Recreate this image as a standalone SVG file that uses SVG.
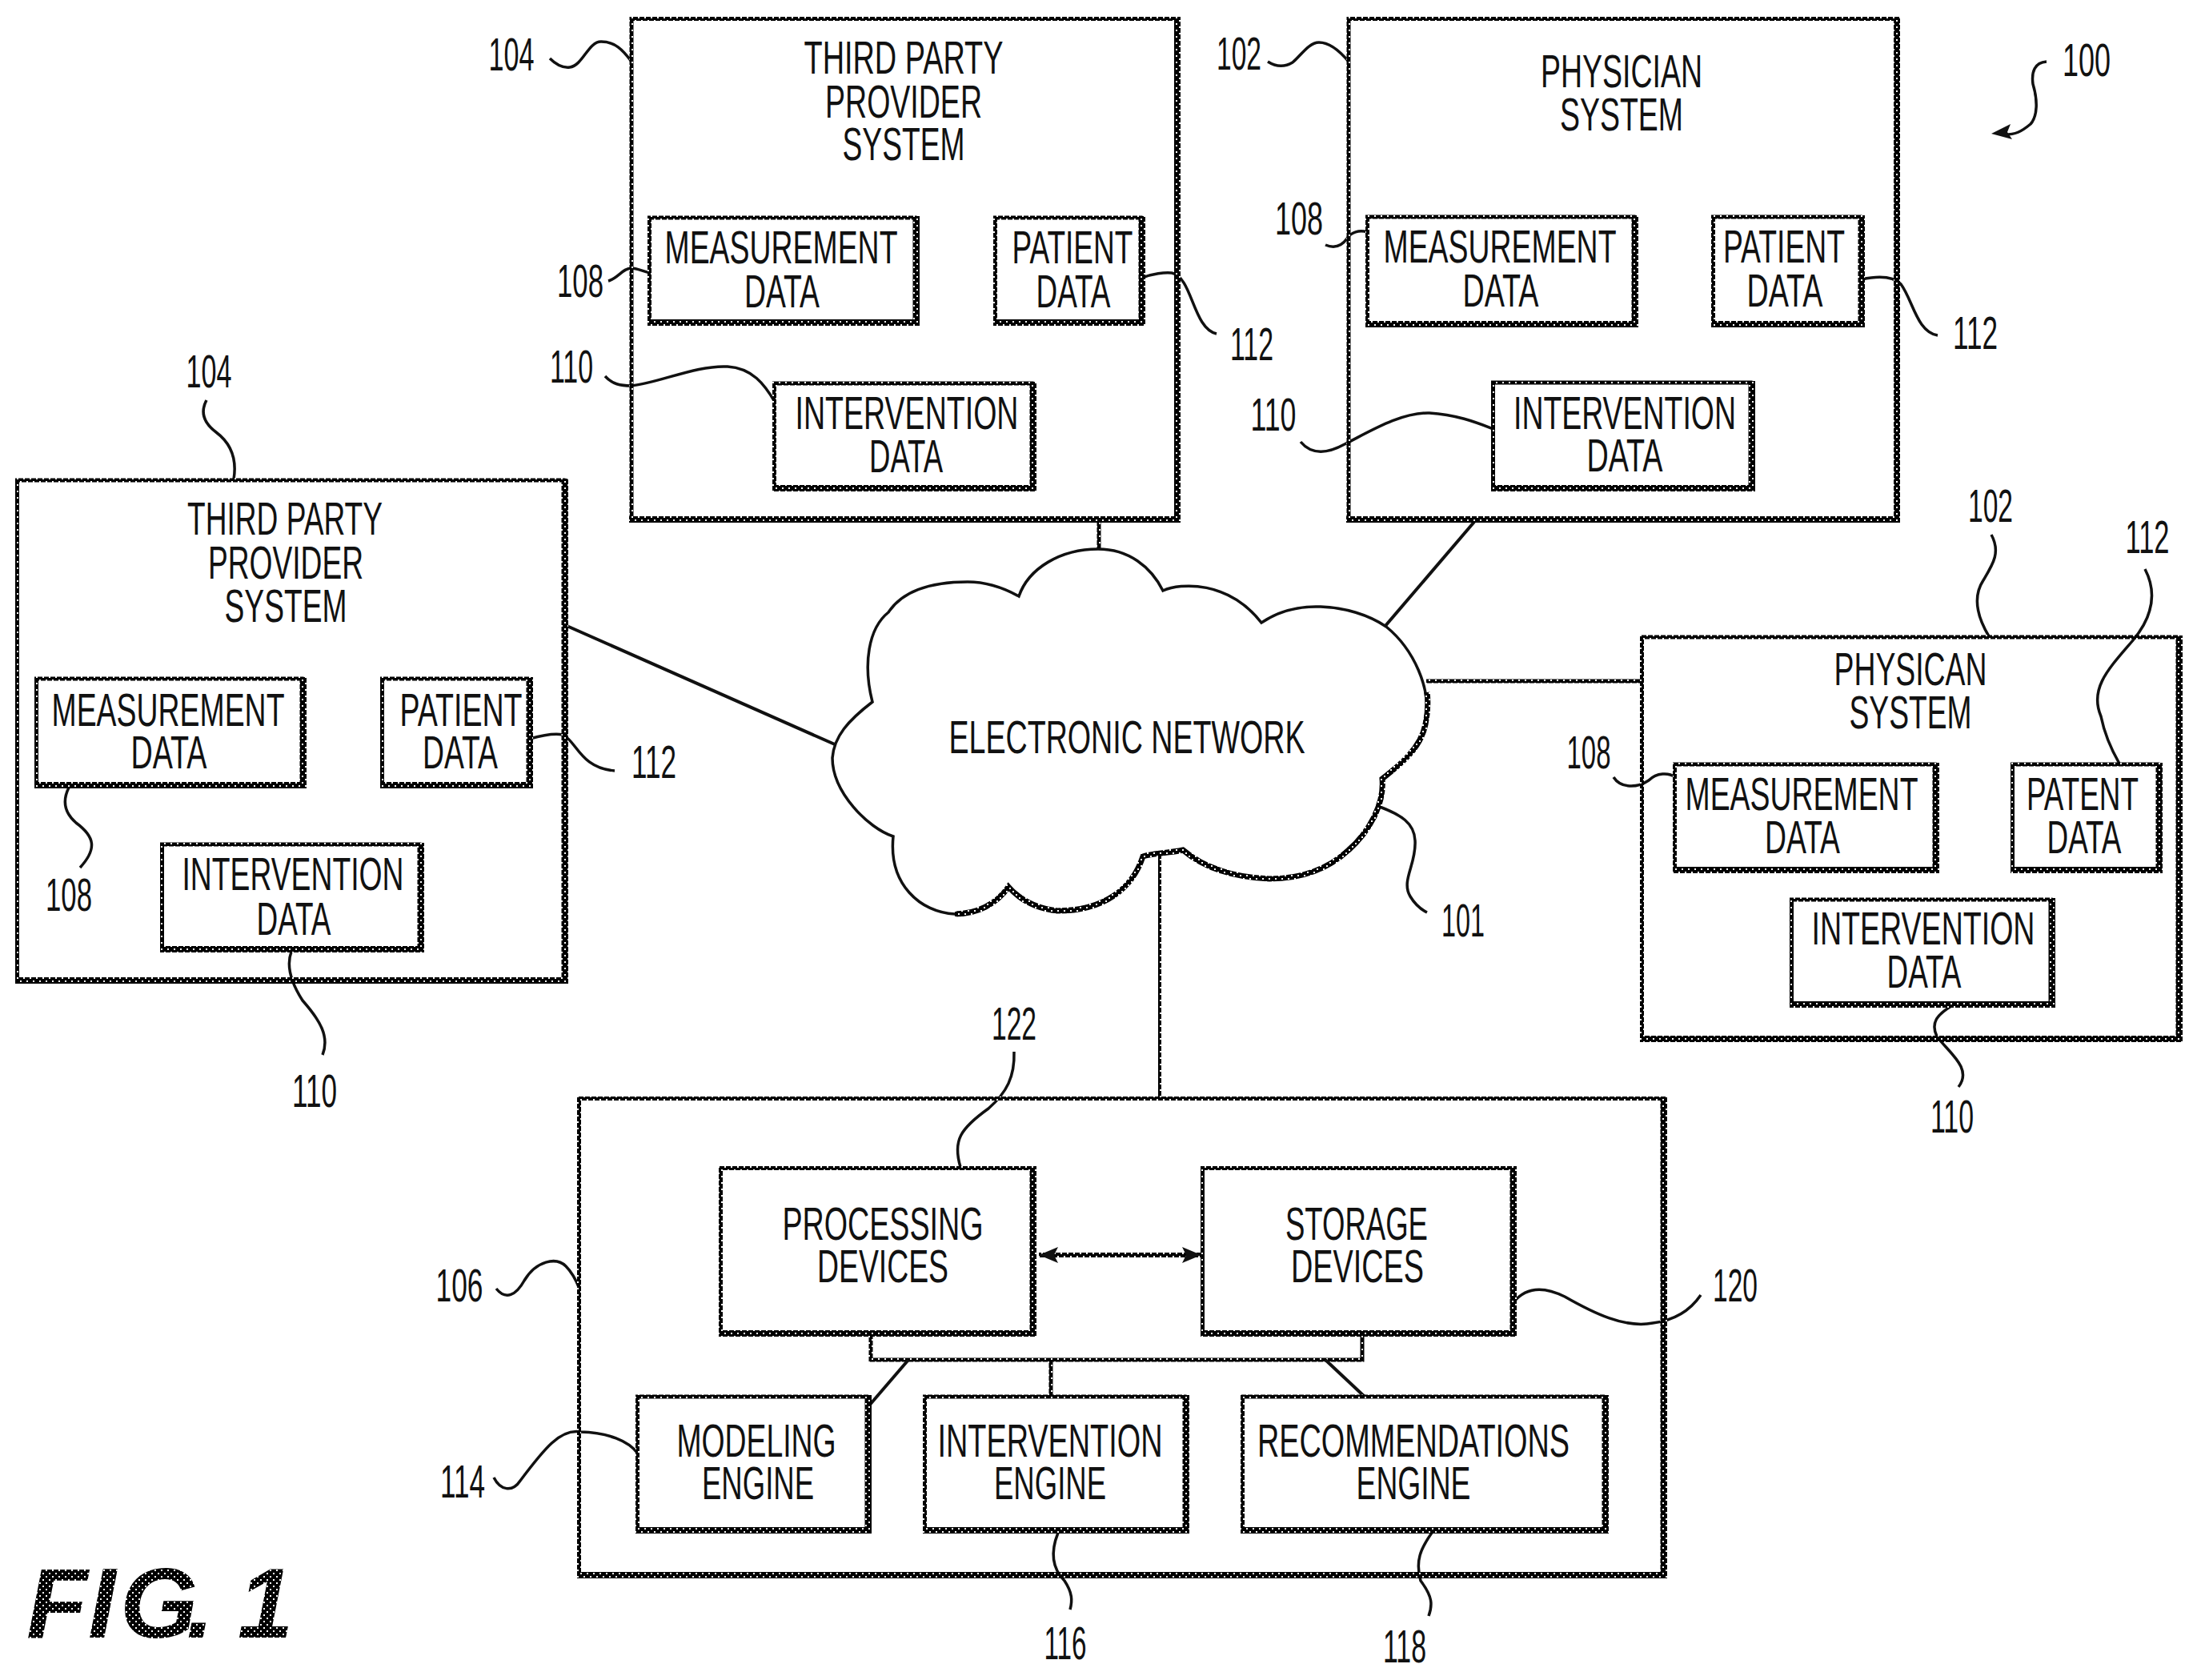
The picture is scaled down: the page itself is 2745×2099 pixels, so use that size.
<svg xmlns="http://www.w3.org/2000/svg" width="2745" height="2099" viewBox="0 0 2745 2099">
<style>
text{font-family:"Liberation Sans",Arial,sans-serif;font-size:58px;text-anchor:middle;fill:#111;}
.b{fill:none;stroke:url(#ht);stroke-width:5;}
.s{fill:none;stroke:url(#ht);stroke-width:8;}
.l{fill:none;stroke:url(#ht);stroke-width:5;}
.d{fill:none;stroke:#111;stroke-width:4;}
.w{fill:none;stroke:#111;stroke-width:3.5;}
.c{fill:#fff;stroke:#111;stroke-width:3.5;}
.h{fill:none;stroke:url(#ht);stroke-width:7;}
text.f{font-size:125px;font-weight:bold;font-style:italic;text-anchor:start;fill:url(#ht);}
</style>
<defs>
<pattern id="ht" width="8" height="8" patternUnits="userSpaceOnUse"><rect width="8" height="8" fill="#000"/><rect x="1" y="1" width="2" height="2" fill="#fff"/><rect x="5" y="5" width="2" height="2" fill="#fff"/></pattern>
<marker id="ah" markerUnits="userSpaceOnUse" markerWidth="26" markerHeight="22" refX="24" refY="11" orient="auto-start-reverse"><path d="M0 1 L24 11 L0 21 L5 11Z" fill="#111"/></marker>
</defs>
<rect width="2745" height="2099" fill="#fff"/>
<g id="connectors">
<path class="l" d="M1373 653V690"/>
<path class="d" d="M1842 652L1730 783"/>
<path class="l" d="M1782 851H2052"/>
<path class="d" d="M706 781L1043 930"/>
<path class="l" style="stroke-width:4" d="M1449 1069V1372"/>
<path class="l" style="stroke-width:6" marker-start="url(#ah)" marker-end="url(#ah)" d="M1298 1568H1501"/>
<path class="l" d="M1088 1670V1699H1702V1670"/>
<path class="d" d="M1135 1699L1086 1756"/>
<path class="l" d="M1313 1699V1745"/>
<path class="d" d="M1656 1699L1705 1745"/>
<g id="leaders">
<path class="w" d="M687 73C696 82 704 85 712 84C728 82 735 52 751 52C768 52 778 62 789 77"/>
<path class="w" d="M760 351C772 348 778 335 789 335C796 335 803 339 813 341"/>
<path class="w" d="M756 470C765 480 775 482 789 482C825 478 870 456 909 458C940 460 955 480 968 502"/>
<path class="w" d="M1427 347C1440 342 1455 340 1464 341C1490 346 1490 410 1520 417"/>
<path class="w" d="M258 500C250 515 254 528 270 540C290 555 296 575 292 599"/>
<path class="w" d="M662 923C680 918 692 916 703 918C720 925 725 960 768 963"/>
<path class="w" d="M86 984C78 1000 80 1015 95 1028C118 1045 122 1060 100 1084"/>
<path class="w" d="M364 1189C358 1205 362 1225 378 1250C400 1275 412 1295 403 1318"/>
<path class="w" d="M1584 77C1595 84 1605 84 1615 78C1625 70 1635 53 1648 53C1662 53 1675 65 1685 77"/>
<path class="w" d="M1656 306C1670 312 1678 305 1683 298C1688 290 1698 287 1709 290"/>
<path class="w" d="M1625 552C1640 570 1660 566 1680 555C1710 540 1750 515 1786 516C1820 518 1845 528 1866 536"/>
<path class="w" d="M2326 349C2345 345 2365 345 2375 355C2390 375 2395 415 2421 419"/>
<path class="w" d="M2557 77C2542 78 2538 90 2540 105C2546 125 2546 145 2537 155C2525 165 2518 168 2505 168"/>
<polygon fill="#111" points="2488,167 2512,155 2508,165 2514,174"/>
<path class="w" d="M2488 668C2500 690 2490 705 2478 725C2465 745 2470 770 2485 795"/>
<path class="w" d="M2680 711C2695 740 2690 770 2665 800C2635 835 2610 860 2625 895C2630 920 2640 940 2648 954"/>
<path class="w" d="M2016 971C2025 985 2045 985 2060 975C2070 965 2085 965 2093 971"/>
<path class="w" d="M1724 1008C1750 1018 1767 1028 1768 1050C1770 1080 1750 1100 1762 1120C1768 1130 1775 1136 1783 1140"/>
<path class="w" d="M2438 1257C2420 1268 2412 1278 2420 1295C2435 1315 2465 1335 2447 1358"/>
<path class="w" d="M1267 1314C1268 1345 1258 1365 1235 1385C1200 1410 1190 1425 1200 1458"/>
<path class="w" d="M620 1610C632 1625 645 1618 655 1600C670 1575 695 1570 707 1582C715 1590 720 1600 724 1610"/>
<path class="w" d="M1891 1627C1905 1610 1925 1605 1955 1620C1990 1640 2030 1660 2065 1653C2090 1650 2110 1640 2125 1618"/>
<path class="w" d="M617 1846C625 1862 640 1865 650 1850C680 1810 700 1785 725 1789C760 1790 785 1800 797 1816"/>
<path class="w" d="M1322 1915C1312 1940 1315 1960 1330 1975C1340 1990 1340 2000 1337 2011"/>
<path class="w" d="M1789 1915C1775 1935 1768 1950 1775 1975C1790 1995 1790 2005 1785 2019"/>
</g>
</g>
<g id="network-101">
<path class="c" d="M1090 877C1078 830 1085 785 1110 765C1130 735 1170 727 1209 727C1235 727 1255 735 1273 745C1285 710 1325 686 1372 686C1410 686 1438 708 1453 738C1475 728 1535 725 1576 778C1600 762 1625 757 1650 758C1680 759 1710 768 1732 783C1765 810 1790 860 1781 905C1775 935 1750 955 1727 973C1730 1005 1710 1040 1685 1062C1655 1090 1620 1098 1586 1098C1540 1096 1505 1085 1478 1062C1460 1066 1440 1066 1428 1070C1415 1110 1380 1138 1321 1138C1295 1135 1275 1125 1260 1108C1245 1130 1220 1142 1193 1142C1150 1140 1110 1105 1116 1045C1085 1035 1040 990 1040 947C1042 920 1060 900 1090 877Z"/>
<path class="h" d="M1783 865C1785 880 1783 895 1781 905C1775 935 1750 955 1727 973C1730 1005 1710 1040 1685 1062C1655 1090 1620 1098 1586 1098C1540 1096 1505 1085 1478 1062C1460 1066 1440 1066 1428 1070C1415 1110 1380 1138 1321 1138C1295 1135 1275 1125 1260 1108C1245 1130 1220 1142 1193 1142"/>
<text x="1408" y="941" textLength="445" lengthAdjust="spacingAndGlyphs">ELECTRONIC NETWORK</text>
</g>
<g id="third-party-top">
<rect class="b" x="789" y="23.500" width="681.500" height="625"/><path class="s" d="M1471 21V649H786"/>
<text x="1129" y="92" textLength="249" lengthAdjust="spacingAndGlyphs">THIRD PARTY</text>
<text x="1129" y="147" textLength="196" lengthAdjust="spacingAndGlyphs">PROVIDER</text>
<text x="1129" y="200" textLength="153" lengthAdjust="spacingAndGlyphs">SYSTEM</text>
<rect class="b" x="811.500" y="272" width="331.500" height="131"/><path class="s" d="M1145 270V403H809"/>
<text x="976" y="329" textLength="291" lengthAdjust="spacingAndGlyphs">MEASUREMENT</text>
<text x="977" y="384" textLength="94" lengthAdjust="spacingAndGlyphs">DATA</text>
<rect class="b" x="1243.500" y="272" width="181.500" height="131"/><path class="s" d="M1427 270V403H1241"/>
<text x="1340" y="329" textLength="151" lengthAdjust="spacingAndGlyphs">PATIENT</text>
<text x="1341" y="384" textLength="93" lengthAdjust="spacingAndGlyphs">DATA</text>
<rect class="b" x="967.500" y="479" width="321.500" height="131"/><path class="s" d="M1291 477V610H965"/>
<text x="1133" y="536" textLength="279" lengthAdjust="spacingAndGlyphs">INTERVENTION</text>
<text x="1132" y="590" textLength="92" lengthAdjust="spacingAndGlyphs">DATA</text>
</g>
<g id="third-party-left">
<rect class="b" x="21.500" y="600" width="682.500" height="625"/><path class="s" d="M706 598V1225H19"/>
<text x="356" y="668" textLength="244" lengthAdjust="spacingAndGlyphs">THIRD PARTY</text>
<text x="357" y="723" textLength="194" lengthAdjust="spacingAndGlyphs">PROVIDER</text>
<text x="357" y="777" textLength="153" lengthAdjust="spacingAndGlyphs">SYSTEM</text>
<rect class="b" x="45.500" y="848" width="331.500" height="133"/><path class="s" d="M379 846V981H43"/>
<text x="210" y="907" textLength="291" lengthAdjust="spacingAndGlyphs">MEASUREMENT</text>
<text x="211" y="960" textLength="95" lengthAdjust="spacingAndGlyphs">DATA</text>
<rect class="b" x="477.500" y="848" width="182.500" height="133"/><path class="s" d="M662 846V981H475"/>
<text x="576" y="907" textLength="153" lengthAdjust="spacingAndGlyphs">PATIENT</text>
<text x="575" y="960" textLength="94" lengthAdjust="spacingAndGlyphs">DATA</text>
<rect class="b" x="202.500" y="1055" width="321.500" height="131"/><path class="s" d="M526 1053V1186H200"/>
<text x="366" y="1112" textLength="277" lengthAdjust="spacingAndGlyphs">INTERVENTION</text>
<text x="367" y="1168" textLength="93" lengthAdjust="spacingAndGlyphs">DATA</text>
</g>
<g id="physician-top">
<rect class="b" x="1685" y="23.500" width="684.500" height="625"/><path class="s" d="M2370 21V649H1682"/>
<text x="2026" y="109" textLength="202" lengthAdjust="spacingAndGlyphs">PHYSICIAN</text>
<text x="2026" y="163" textLength="154" lengthAdjust="spacingAndGlyphs">SYSTEM</text>
<rect class="b" x="1708.500" y="271" width="332.500" height="134"/><path class="s" d="M2043 269V405H1706"/>
<text x="1874" y="328" textLength="291" lengthAdjust="spacingAndGlyphs">MEASUREMENT</text>
<text x="1875" y="383" textLength="95" lengthAdjust="spacingAndGlyphs">DATA</text>
<rect class="b" x="2140.500" y="271" width="183.500" height="134"/><path class="s" d="M2326 269V405H2138"/>
<text x="2229" y="328" textLength="152" lengthAdjust="spacingAndGlyphs">PATIENT</text>
<text x="2230" y="383" textLength="95" lengthAdjust="spacingAndGlyphs">DATA</text>
<rect class="b" x="1865.500" y="478" width="321.500" height="132"/><path class="s" d="M2189 476V610H1863"/>
<text x="2030" y="536" textLength="278" lengthAdjust="spacingAndGlyphs">INTERVENTION</text>
<text x="2030" y="589" textLength="95" lengthAdjust="spacingAndGlyphs">DATA</text>
</g>
<g id="physician-right">
<rect class="b" x="2051.500" y="796" width="669.500" height="502"/><path class="s" d="M2723 794V1298H2049"/>
<text x="2387" y="856" textLength="191" lengthAdjust="spacingAndGlyphs">PHYSICAN</text>
<text x="2387" y="910" textLength="153" lengthAdjust="spacingAndGlyphs">SYSTEM</text>
<rect class="b" x="2092.500" y="955" width="324.500" height="132"/><path class="s" d="M2419 953V1087H2090"/>
<text x="2251" y="1012" textLength="291" lengthAdjust="spacingAndGlyphs">MEASUREMENT</text>
<text x="2252" y="1066" textLength="94" lengthAdjust="spacingAndGlyphs">DATA</text>
<rect class="b" x="2514.500" y="955" width="181.500" height="132"/><path class="s" d="M2698 953V1087H2512"/>
<text x="2602" y="1012" textLength="140" lengthAdjust="spacingAndGlyphs">PATENT</text>
<text x="2604" y="1066" textLength="93" lengthAdjust="spacingAndGlyphs">DATA</text>
<rect class="b" x="2238.500" y="1124" width="323.500" height="131"/><path class="s" d="M2564 1122V1255H2236"/>
<text x="2403" y="1180" textLength="279" lengthAdjust="spacingAndGlyphs">INTERVENTION</text>
<text x="2404" y="1234" textLength="93" lengthAdjust="spacingAndGlyphs">DATA</text>
</g>
<g id="server-106">
<rect class="b" x="723.500" y="1372.500" width="1353.500" height="595.500"/><path class="s" d="M2079 1370V1968H721"/>
</g>
<g id="processing-devices-122">
<rect class="b" x="900.500" y="1459.500" width="388.500" height="206.500"/><path class="s" d="M1291 1457V1666H898"/>
<text x="1103" y="1549" textLength="251" lengthAdjust="spacingAndGlyphs">PROCESSING</text>
<text x="1103" y="1602" textLength="164" lengthAdjust="spacingAndGlyphs">DEVICES</text>
</g>
<g id="storage-devices-120">
<rect class="b" x="1502.500" y="1459.500" width="386.500" height="206.500"/><path class="s" d="M1891 1457V1666H1500"/>
<text x="1695" y="1549" textLength="178" lengthAdjust="spacingAndGlyphs">STORAGE</text>
<text x="1696" y="1602" textLength="166" lengthAdjust="spacingAndGlyphs">DEVICES</text>
</g>
<g id="modeling-engine-114">
<rect class="b" x="796.500" y="1745" width="286.500" height="167"/><path class="s" d="M1085 1743V1912H794"/>
<text x="945" y="1820" textLength="199" lengthAdjust="spacingAndGlyphs">MODELING</text>
<text x="947" y="1873" textLength="140" lengthAdjust="spacingAndGlyphs">ENGINE</text>
</g>
<g id="intervention-engine-116">
<rect class="b" x="1155.500" y="1745" width="324.500" height="167"/><path class="s" d="M1482 1743V1912H1153"/>
<text x="1312" y="1820" textLength="281" lengthAdjust="spacingAndGlyphs">INTERVENTION</text>
<text x="1312" y="1873" textLength="140" lengthAdjust="spacingAndGlyphs">ENGINE</text>
</g>
<g id="recommendations-engine-118">
<rect class="b" x="1552.500" y="1745" width="451.500" height="167"/><path class="s" d="M2006 1743V1912H1550"/>
<text x="1766" y="1820" textLength="390" lengthAdjust="spacingAndGlyphs">RECOMMENDATIONS</text>
<text x="1766" y="1873" textLength="143" lengthAdjust="spacingAndGlyphs">ENGINE</text>
</g>
<g id="references">
<text x="639" y="88" textLength="57" lengthAdjust="spacingAndGlyphs">104</text>
<text x="725" y="371" textLength="58" lengthAdjust="spacingAndGlyphs">108</text>
<text x="714" y="478" textLength="54" lengthAdjust="spacingAndGlyphs">110</text>
<text x="1564" y="450" textLength="54" lengthAdjust="spacingAndGlyphs">112</text>
<text x="261" y="484" textLength="57" lengthAdjust="spacingAndGlyphs">104</text>
<text x="817" y="972" textLength="56" lengthAdjust="spacingAndGlyphs">112</text>
<text x="86" y="1138" textLength="58" lengthAdjust="spacingAndGlyphs">108</text>
<text x="393" y="1383" textLength="56" lengthAdjust="spacingAndGlyphs">110</text>
<text x="1548" y="87" textLength="56" lengthAdjust="spacingAndGlyphs">102</text>
<text x="1623" y="293" textLength="60" lengthAdjust="spacingAndGlyphs">108</text>
<text x="2468" y="436" textLength="56" lengthAdjust="spacingAndGlyphs">112</text>
<text x="1591" y="538" textLength="57" lengthAdjust="spacingAndGlyphs">110</text>
<text x="2607" y="95" textLength="60" lengthAdjust="spacingAndGlyphs">100</text>
<text x="2487" y="652" textLength="56" lengthAdjust="spacingAndGlyphs">102</text>
<text x="2683" y="691" textLength="55" lengthAdjust="spacingAndGlyphs">112</text>
<text x="1985" y="960" textLength="55" lengthAdjust="spacingAndGlyphs">108</text>
<text x="1828" y="1170" textLength="54" lengthAdjust="spacingAndGlyphs">101</text>
<text x="2439" y="1415" textLength="54" lengthAdjust="spacingAndGlyphs">110</text>
<text x="1267" y="1299" textLength="56" lengthAdjust="spacingAndGlyphs">122</text>
<text x="574" y="1626" textLength="59" lengthAdjust="spacingAndGlyphs">106</text>
<text x="2168" y="1626" textLength="56" lengthAdjust="spacingAndGlyphs">120</text>
<text x="578" y="1871" textLength="56" lengthAdjust="spacingAndGlyphs">114</text>
<text x="1331" y="2073" textLength="53" lengthAdjust="spacingAndGlyphs">116</text>
<text x="1755" y="2077" textLength="54" lengthAdjust="spacingAndGlyphs">118</text>
<text class="f" x="33 110 150 233 264 297" y="2046">FIG. 1</text>
</g>
</svg>
